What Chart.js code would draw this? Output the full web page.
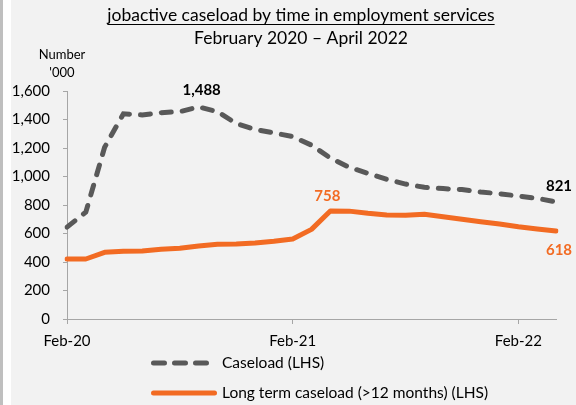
<!DOCTYPE html>
<html>
<head>
<meta charset="utf-8">
<script src="https://cdn.jsdelivr.net/npm/chart.js@4.4.0/dist/chart.umd.min.js"></script>
<style>
    html, body { margin: 0; padding: 0; }
    body {
        width: 576px;
        height: 405px;
        overflow: hidden;
        background: linear-gradient(to right, #bfbfbf 0, #bfbfbf 3px, #ffffff 3px, #ffffff 11px, #f2f2f2 11px);
    }
</style>
</head>
<body>
<canvas id="chart" width="576" height="405"></canvas>
<script>
// monthly data, Feb 2020 - Apr 2022 ('000)
const months = [
    'Feb-20', 'Mar-20', 'Apr-20', 'May-20', 'Jun-20', 'Jul-20', 'Aug-20', 'Sep-20', 'Oct-20', 'Nov-20', 'Dec-20', 'Jan-21',
    'Feb-21', 'Mar-21', 'Apr-21', 'May-21', 'Jun-21', 'Jul-21', 'Aug-21', 'Sep-21', 'Oct-21', 'Nov-21', 'Dec-21', 'Jan-22',
    'Feb-22', 'Mar-22', 'Apr-22'
];
const caseload = [645, 750, 1205, 1440, 1432, 1448, 1455, 1488, 1455, 1372, 1330, 1306,
    1280, 1220, 1130, 1065, 1022, 980, 947, 924, 915, 908, 891, 879,
    863, 847, 821];
const longTerm = [421, 421, 468, 475, 478, 489, 496, 512, 524, 526, 533, 545,
    561, 629, 758, 757, 742, 730, 728, 735, 718, 700, 683, 667,
    648, 632, 618];
const shownTicks = ['Feb-20', 'Feb-21', 'Feb-22'];

// which points get a value label: [dataset, index]
const labelled = [[0, 7], [1, 14], [0, 26], [1, 26]];

const GREY = '#595959';
const ORANGE = '#F26B23';
const AXIS = '#a6a6a6';
const FONT = 'Lato';

const fmt = (v) => v.toLocaleString('en-US');

// titles, axis unit, legend and value labels
const annotate = {
    id: 'annotate',
    afterDraw(chart) {
        const ctx = chart.ctx;
        ctx.save();
        ctx.fillStyle = '#000';
        ctx.textAlign = 'center';
        ctx.textBaseline = 'alphabetic';

        ctx.font = `17.5px ${FONT}`;
        const title = 'jobactive caseload by time in employment services';
        ctx.fillText(title, 301, 21);
        const w = ctx.measureText(title).width;
        ctx.strokeStyle = '#000';
        ctx.lineWidth = 1;
        ctx.beginPath();
        ctx.moveTo(301 - w / 2, 24.5);
        ctx.lineTo(301 + w / 2, 24.5);
        ctx.stroke();
        ctx.fillText('February 2020 \u2013 April 2022', 301, 44);

        ctx.textBaseline = 'middle';
        ctx.font = `13px ${FONT}`;
        ctx.fillText('Number', 62, 55);
        ctx.fillText("'000", 62, 73);

        // value labels
        ctx.font = `bold 15px ${FONT}`;
        const offs = { '0-7': [3, -17], '1-14': [-3, -15], '0-26': [3, -16], '1-26': [3, 19] };
        labelled.forEach(([d, i]) => {
            const pt = chart.getDatasetMeta(d).data[i];
            const o = offs[d + '-' + i];
            ctx.fillStyle = d === 0 ? '#000' : ORANGE;
            ctx.fillText(fmt(chart.data.datasets[d].data[i]), pt.x + o[0], pt.y + o[1]);
        });

        // legend
        ctx.lineCap = 'round';
        ctx.lineWidth = 5;
        ctx.strokeStyle = GREY;
        ctx.setLineDash([11, 10]);
        ctx.beginPath();
        ctx.moveTo(153.5, 363);
        ctx.lineTo(211, 363);
        ctx.stroke();
        ctx.setLineDash([]);
        ctx.strokeStyle = ORANGE;
        ctx.beginPath();
        ctx.moveTo(153.5, 393);
        ctx.lineTo(214.5, 393);
        ctx.stroke();

        ctx.fillStyle = '#000';
        ctx.textAlign = 'left';
        ctx.font = `15.5px ${FONT}`;
        ctx.fillText(chart.data.datasets[0].label, 222, 363);
        ctx.fillText(chart.data.datasets[1].label, 222, 393);
        ctx.restore();
    }
};

new Chart(document.getElementById('chart'), {
    type: 'line',
    data: {
        labels: months,
        datasets: [
            {
                label: 'Caseload (LHS)',
                data: caseload,
                borderColor: GREY,
                borderWidth: 5,
                borderDash: [10, 11],
                borderCapStyle: 'round',
                pointRadius: 0,
                tension: 0
            },
            {
                label: 'Long term caseload (>12 months) (LHS)',
                data: longTerm,
                borderColor: ORANGE,
                borderWidth: 5,
                borderCapStyle: 'round',
                borderJoinStyle: 'round',
                pointRadius: 0,
                tension: 0
            }
        ]
    },
    options: {
        responsive: false,
        animation: false,
        layout: { padding: { top: 91, right: 20, bottom: 0, left: 0 } },
        plugins: {
            legend: { display: false },
            tooltip: { enabled: false }
        },
        scales: {
            x: {
                offset: false,
                afterFit: (s) => { s.height = 86; },
                grid: {
                    drawOnChartArea: false,
                    tickLength: 5,
                    color: (c) => shownTicks.includes(months[c.index]) ? AXIS : 'rgba(0,0,0,0)'
                },
                border: { color: AXIS },
                ticks: {
                    autoSkip: false,
                    maxRotation: 0,
                    padding: 8,
                    color: '#000',
                    font: { family: FONT, size: 15 },
                    callback: (v, i) => shownTicks.includes(months[i]) ? months[i] : ''
                }
            },
            y: {
                min: 0,
                max: 1600,
                afterFit: (s) => { s.width = 67; },
                grid: { drawOnChartArea: false, tickLength: 4, color: AXIS },
                border: { color: AXIS },
                ticks: {
                    stepSize: 200,
                    padding: 13,
                    color: '#000',
                    font: { family: FONT, size: 15 },
                    callback: (v) => fmt(v)
                }
            }
        }
    },
    plugins: [annotate]
});
</script>
</body>
</html>
